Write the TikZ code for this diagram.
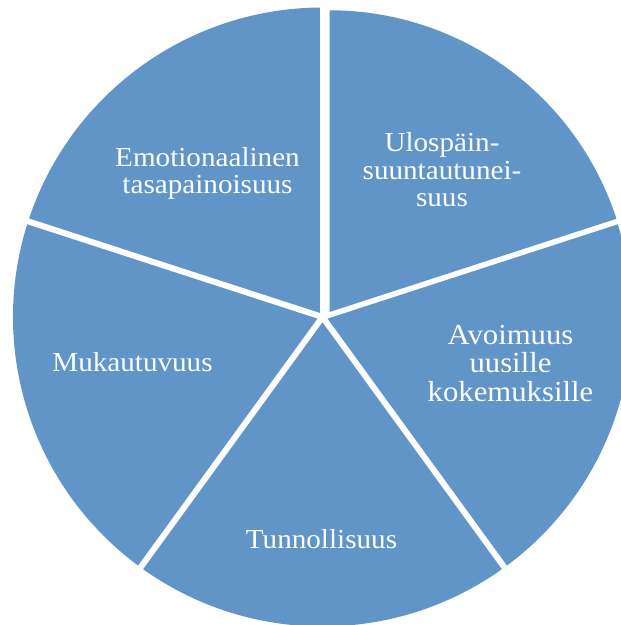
\documentclass[tikz,border=0pt]{standalone}
\usepackage{fontspec}
\setmainfont[FakeStretch=1.06]{Liberation Serif}
\definecolor{pieblue}{RGB}{97,149,200}
\begin{document}
\begin{tikzpicture}[x=1pt,y=1pt,
  slice/.style={fill=pieblue},
  gap/.style={draw=white,line width=6pt},
  lbl/.style={text=white,anchor=base,inner sep=0pt,font=\fontsize{27.5}{28}\selectfont},
  lblbig/.style={lbl,font=\fontsize{29}{29}\selectfont}]
\useasboundingbox (0,0) rectangle (621,625);
\clip (0,0) rectangle (621,625);
\def\R{309.5}
\coordinate (c) at (322.5,308);
\coordinate (v) at (329.5,313);
% four sectors around the common centre
\fill[slice] (c) -- ++(90:\R)  arc[start angle=90,  end angle=162, radius=\R] -- cycle;
\fill[slice] (c) -- ++(162:\R) arc[start angle=162, end angle=234, radius=\R] -- cycle;
\fill[slice] (c) -- ++(234:\R) arc[start angle=234, end angle=306, radius=\R] -- cycle;
\fill[slice] (c) -- ++(306:\R) arc[start angle=306, end angle=378, radius=\R] -- cycle;
% white separators
\foreach \a in {90,162,234,306,18}
  \draw[gap] (c) -- ++(\a:340);
% pulled-out upper right sector
\fill[slice] (v) -- ++(18:301.7) arc[start angle=18, end angle=90, radius=301.7] -- cycle;
% labels
\node[lbl] (e1) at (207.5,458) {Emotionaalinen};
\node[lbl] (e2) at (207.5,431) {tasapainoisuus};
\node[lbl] (u1) at (442,473) {Ulospäin-};
\node[lbl] (u2) at (442,445.5) {suuntautunei-};
\node[lbl] (u3) at (442,418) {suus};
\node[lblbig] (a1) at (510.5,280) {Avoimuus};
\node[lblbig] (a2) at (510.5,252) {uusille};
\node[lblbig] (a3) at (510.5,223) {kokemuksille};
\node[lbl] (m) at (132.5,253) {Mukautuvuus};
\node[lbl] (t) at (321.5,76) {Tunnollisuus};
\end{tikzpicture}
\end{document}
